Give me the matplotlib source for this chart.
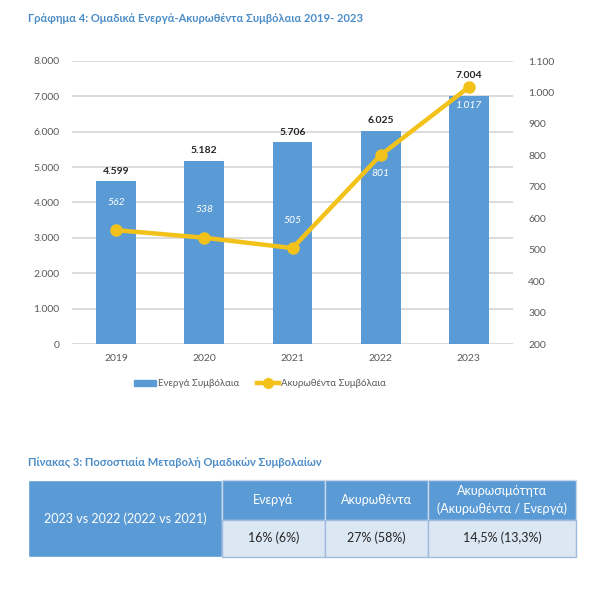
import matplotlib.pyplot as plt
from matplotlib.patches import Rectangle
from matplotlib.lines import Line2D

plt.rcParams['font.family'] = ['Lato', 'DejaVu Sans']

years = ['2019', '2020', '2021', '2022', '2023']
active = [4599, 5182, 5706, 6025, 7004]
cancelled = [562, 538, 505, 801, 1017]

title = 'Γράφημα 4: Ομαδικά Ενεργά-Ακυρωθέντα Συμβόλαια 2019- 2023'
table_title = 'Πίνακας 3: Ποσοστιαία Μεταβολή Ομαδικών Συμβολαίων'
row_label = '2023 vs 2022 (2022 vs 2021)'
col_heads = ['Ενεργά', 'Ακυρωθέντα', 'Ακυρωσιμότητα\n(Ακυρωθέντα / Ενεργά)']
col_vals = ['16% (6%)', '27% (58%)', '14,5% (13,3%)']

blue = '#5b9bd5'
gold = '#f2c21b'
title_col = '#4a8cc7'
grey = '#595959'


def fmt(v):
    return f'{v:,}'.replace(',', '.')


W, H = 601, 593
fig = plt.figure(figsize=(W / 100, H / 100), dpi=100)

fig.text(28 / W, 1 - 18 / H, title, fontsize=8, fontweight='bold',
         color=title_col, va='center', ha='left')

ax = fig.add_axes([72 / W, 1 - 344 / H, 441 / W, 283 / H])
x = list(range(len(years)))
ax.bar(x, active, width=0.45, color=blue, zorder=2)
ax.set_ylim(0, 8000)
ax.set_xlim(-0.5, len(years) - 0.5)
ax.set_yticks(range(0, 8001, 1000))
ax.set_yticklabels([fmt(v) for v in range(0, 8001, 1000)])
ax.set_xticks(x)
ax.set_xticklabels(years)
ax.yaxis.grid(True, color='#d9d9d9', lw=1.3, zorder=0)
ax.set_axisbelow(True)
for s in ax.spines.values():
    s.set_visible(False)
ax.tick_params(length=0, labelsize=7.5, colors=grey, pad=9)
ax.tick_params(axis='x', pad=7)
for i, (xi, v) in enumerate(zip(x, active)):
    off = 12 if i == len(active) - 1 else 4
    ax.annotate(fmt(v), (xi, v), xytext=(0, off), textcoords='offset points',
                ha='center', va='bottom', fontsize=7.5, fontweight='bold', color='#262626')

ax2 = ax.twinx()
ax2.plot(x, cancelled, color=gold, lw=3.2, marker='o', markersize=8, zorder=3)
ax2.set_ylim(200, 1100)
ax2.set_yticks(range(200, 1101, 100))
ax2.set_yticklabels([fmt(v) for v in range(200, 1101, 100)])
for s in ax2.spines.values():
    s.set_visible(False)
ax2.tick_params(length=0, labelsize=7.5, colors=grey, pad=11)
for i, (xi, v) in enumerate(zip(x, cancelled)):
    off = 20 if i < 3 else -13
    ax2.annotate(fmt(v), (xi, v), xytext=(0, off), textcoords='offset points',
                 ha='center', va='center', fontsize=7.5, fontstyle='italic', color='white')

handles = [Rectangle((0, 0), 1, 1, color=blue),
           Line2D([0], [0], color=gold, lw=3.2, marker='o', markersize=7)]
fig.legend(handles, ['Ενεργά Συμβόλαια', 'Ακυρωθέντα Συμβόλαια'], loc='center',
           bbox_to_anchor=(260 / W, 1 - 384 / H), ncol=2, frameon=False,
           fontsize=7, labelcolor=grey, handlelength=2.3, handleheight=0.6,
           columnspacing=1.8, handletextpad=0.2)

# table
fig.text(28 / W, 1 - 462 / H, table_title, fontsize=8, fontweight='bold',
         color=title_col, va='center', ha='left')
tx = fig.add_axes([0, 0, 1, 1])
tx.set_xlim(0, W)
tx.set_ylim(H, 0)
tx.axis('off')
tx.add_patch(Rectangle((28, 480), 194, 77, facecolor=blue, edgecolor='white', lw=1))
tx.text(125, 519, row_label, ha='center', va='center', fontsize=9, color='white')
edges = [222, 325, 428, 576]
for j in range(3):
    x0, x1 = edges[j], edges[j + 1]
    tx.add_patch(Rectangle((x0, 480), x1 - x0, 40, facecolor=blue, edgecolor='#c8d8ea', lw=1))
    tx.add_patch(Rectangle((x0, 520), x1 - x0, 37, facecolor='#dce7f4', edgecolor='#9fbcdc', lw=1))
    tx.text((x0 + x1) / 2, 500, col_heads[j], ha='center', va='center', fontsize=9,
            color='white', linespacing=1.5)
    tx.text((x0 + x1) / 2, 538, col_vals[j], ha='center', va='center', fontsize=9,
            color='#262626')

fig.savefig('out.png', dpi=100)
